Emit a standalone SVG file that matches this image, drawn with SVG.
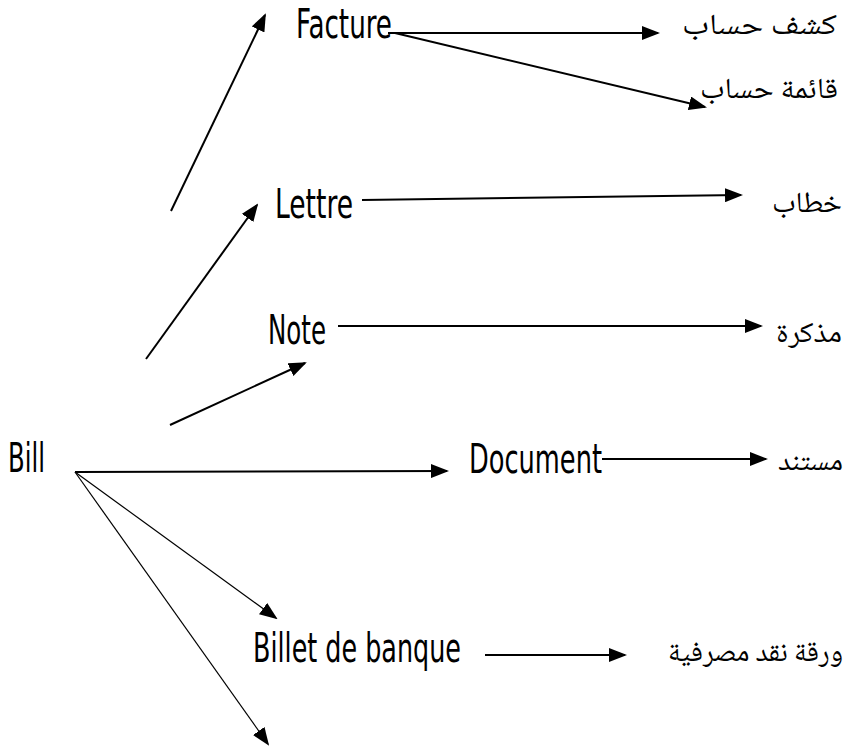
<svg xmlns="http://www.w3.org/2000/svg" width="851" height="750" viewBox="0 0 851 750">
<style>
.lat{font-family:"DejaVu Sans Condensed","Liberation Sans Narrow","DejaVu Sans",sans-serif;font-size:41px;fill:#000}
.ar{font-family:"Noto Naskh Arabic","Amiri","Scheherazade","DejaVu Serif","DejaVu Sans",serif;font-size:29px;fill:#000}
.c{stroke:#000;stroke-width:2;fill:none;marker-end:url(#ah)}
.t{stroke-width:1.2}
</style>
<defs>
<marker id="ah" markerUnits="userSpaceOnUse" markerWidth="18" markerHeight="14" refX="16" refY="7" orient="auto" viewBox="0 0 18 14">
<path d="M0,0 L18,7 L0,14 Z" fill="#000"/>
</marker>
</defs>
<rect width="851" height="750" fill="#fff"/>
<g id="connectors">
<line class="c" x1="171" y1="211" x2="265" y2="15"/>
<line class="c" x1="388" y1="33" x2="658" y2="33"/>
<line class="c" x1="395" y1="33" x2="705" y2="107"/>
<line class="c" x1="146" y1="359" x2="257" y2="205"/>
<line class="c" x1="362" y1="200" x2="741" y2="195"/>
<line class="c" x1="170" y1="425" x2="305" y2="363"/>
<line class="c" x1="338" y1="326" x2="761" y2="326"/>
<line class="c" x1="75" y1="472" x2="447" y2="471"/>
<line class="c" x1="602" y1="459" x2="766" y2="459"/>
<line class="c t" x1="75" y1="472" x2="276" y2="618"/>
<line class="c" x1="485" y1="655" x2="625" y2="655"/>
<line class="c t" x1="75" y1="472" x2="268" y2="744"/>
</g>
<g id="bill"><text class="lat" x="8" y="472" textLength="37" lengthAdjust="spacingAndGlyphs">Bill</text></g>
<g id="facture"><text class="lat" x="296" y="38" textLength="96" lengthAdjust="spacingAndGlyphs">Facture</text></g>
<g id="lettre"><text class="lat" x="275" y="218" textLength="78" lengthAdjust="spacingAndGlyphs">Lettre</text></g>
<g id="note"><text class="lat" x="268" y="344" textLength="58" lengthAdjust="spacingAndGlyphs">Note</text></g>
<g id="document"><text class="lat" x="469" y="473" textLength="133" lengthAdjust="spacingAndGlyphs">Document</text></g>
<g id="billet"><text class="lat" x="253" y="662" textLength="208" lengthAdjust="spacingAndGlyphs">Billet de banque</text></g>
<g id="kashf"><text class="ar" x="682" y="34" textLength="155" lengthAdjust="spacingAndGlyphs">كشف حساب</text></g>
<g id="qaima"><text class="ar" x="700" y="98" textLength="138" lengthAdjust="spacingAndGlyphs">قائمة حساب</text></g>
<g id="khitab"><text class="ar" x="772" y="212" textLength="70" lengthAdjust="spacingAndGlyphs">خطاب</text></g>
<g id="mudhakkira"><text class="ar" x="776" y="342" textLength="66" lengthAdjust="spacingAndGlyphs">مذكرة</text></g>
<g id="mustanad"><text class="ar" x="778" y="470" textLength="65" lengthAdjust="spacingAndGlyphs">مستند</text></g>
<g id="waraqa"><text class="ar" x="668" y="661" textLength="175" lengthAdjust="spacingAndGlyphs">ورقة نقد مصرفية</text></g>
</svg>
